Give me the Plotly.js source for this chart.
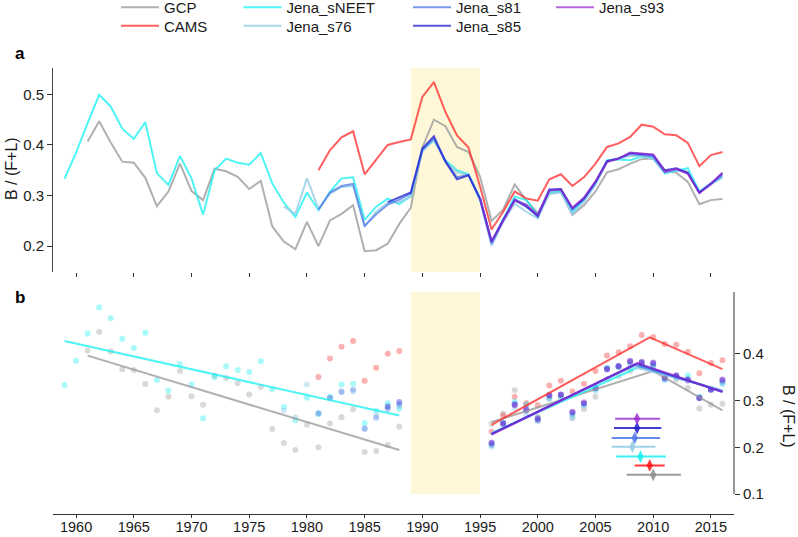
<!DOCTYPE html>
<html>
<head>
<meta charset="utf-8">
<script src="https://cdn.plot.ly/plotly-3.0.1.min.js"></script>
<style>html,body{margin:0;padding:0;background:#fff}#chart{width:798px;height:537px}</style>
</head>
<body>
<div id="chart"></div>
<script>
// ---------------- DATA ----------------
const seriesNames = ["GCP", "CAMS", "Jena_sNEET", "Jena_s76", "Jena_s81", "Jena_s85", "Jena_s93"];

const gcpStart = 1961;
const gcp = [0.407, 0.447, 0.405, 0.367, 0.365, 0.335, 0.279, 0.308, 0.363, 0.309,
             0.291, 0.353, 0.348, 0.337, 0.313, 0.329, 0.239, 0.209, 0.194, 0.248,
             0.200, 0.251, 0.264, 0.281, 0.190, 0.192, 0.205, 0.244, 0.276, 0.395,
             0.450, 0.437, 0.396, 0.386, 0.337, 0.250, 0.272, 0.322, 0.291, 0.265,
             0.304, 0.308, 0.262, 0.281, 0.308, 0.346, 0.352, 0.363, 0.372, 0.373,
             0.350, 0.345, 0.327, 0.283, 0.291, 0.293];

const camsStart = 1981;
const cams = [0.350, 0.390, 0.415, 0.427, 0.342, 0.370, 0.400, 0.406, 0.411, 0.495,
              0.524, 0.465, 0.419, 0.395, 0.318, 0.233, 0.268, 0.308, 0.294, 0.290,
              0.332, 0.342, 0.319, 0.336, 0.363, 0.396, 0.403, 0.416, 0.440, 0.436,
              0.421, 0.419, 0.404, 0.358, 0.380, 0.386];

const sneetStart = 1959;
const sneet = [0.333, 0.385, 0.443, 0.499, 0.476, 0.432, 0.412, 0.445, 0.344, 0.321,
               0.378, 0.334, 0.262, 0.350, 0.373, 0.365, 0.361, 0.384, 0.324, 0.286,
               0.258, 0.306, 0.271, 0.308, 0.334, 0.336, 0.252, 0.278, 0.294, 0.283,
               0.299, 0.391, 0.409, 0.370, 0.350, 0.342, 0.294, 0.207, 0.253, 0.298,
               0.291, 0.262, 0.306, 0.308, 0.268, 0.291, 0.323, 0.370, 0.371, 0.370,
               0.377, 0.375, 0.344, 0.349, 0.354, 0.308, 0.324, 0.336];

const s76Start = 1978;
const s76 = [0.278, 0.264, 0.334, 0.274, 0.304, 0.317, 0.319, 0.239, 0.268, 0.286,
             0.287, 0.298, 0.387, 0.410, 0.368, 0.346, 0.340, 0.290, 0.201, 0.248,
             0.284, 0.268, 0.255, 0.303, 0.306, 0.263, 0.288, 0.321, 0.366, 0.372,
             0.378, 0.378, 0.372, 0.345, 0.350, 0.347, 0.305, 0.322, 0.336];

const s81Start = 1981;
const s81 = [0.272, 0.306, 0.319, 0.323, 0.240, 0.263, 0.282, 0.292, 0.304, 0.390,
             0.413, 0.368, 0.336, 0.341, 0.292, 0.205, 0.250, 0.293, 0.281, 0.258,
             0.310, 0.312, 0.272, 0.293, 0.326, 0.368, 0.374, 0.382, 0.380, 0.377,
             0.346, 0.352, 0.344, 0.306, 0.323, 0.340];

const s85Start = 1987;
const s85 = [0.287, 0.297, 0.306, 0.393, 0.417, 0.367, 0.332, 0.340, 0.294, 0.209,
             0.252, 0.291, 0.278, 0.260, 0.312, 0.313, 0.275, 0.294, 0.327, 0.368,
             0.373, 0.384, 0.382, 0.380, 0.350, 0.354, 0.345, 0.306, 0.324, 0.344];

const s93Start = 1995;
const s93 = [0.295, 0.210, 0.250, 0.290, 0.282, 0.262, 0.310, 0.312, 0.276, 0.296,
             0.328, 0.366, 0.373, 0.385, 0.383, 0.381, 0.348, 0.353, 0.343, 0.305,
             0.323, 0.345];

// Pinatubo-period excluded from the trend panel
const gapYears = [1989, 1995];

// Panel b: linear trends before the gap
const trendLeftGCPx = [1961, 1988];
const trendLeftGCPy = [0.396, 0.194];
const trendLeftNEETx = [1959, 1988];
const trendLeftNEETy = [0.427, 0.268];

// Panel b: piecewise trends after the gap: [1996, breakpoint, 2016]
// order: GCP, CAMS, sNEET, s76, s81, s85, s93
const bpYear = [2010.0, 2009.7, 2008.9, 2008.2, 2008.4, 2008.6, 2008.6];
const bpLo   = [2007.7, 2008.4, 2006.8, 2006.4, 2006.4, 2006.6, 2006.7];
const bpHi   = [2012.4, 2011.0, 2011.1, 2010.2, 2010.6, 2010.7, 2010.6];
const trendStartVal = [0.254, 0.248, 0.230, 0.228, 0.229, 0.228, 0.227];
const trendBpVal    = [0.363, 0.435, 0.373, 0.372, 0.376, 0.379, 0.380];
const trendEndVal   = [0.279, 0.367, 0.321, 0.322, 0.320, 0.318, 0.319];
const trendYears = [1996, 2016];
// vertical level at which each breakpoint estimate is plotted
const bpLevel = [0.141, 0.161, 0.180, 0.201, 0.220, 0.241, 0.261];

const xTicks = [1960, 1965, 1970, 1975, 1980, 1985, 1990, 1995, 2000, 2005, 2010, 2015];
const yTicksA = [0.2, 0.3, 0.4, 0.5];
const yTicksB = [0.1, 0.2, 0.3, 0.4];

// ---------------- STYLE ----------------
const lineColors = ["rgba(150,150,150,0.75)", "rgba(255,40,40,0.75)", "rgba(20,240,240,0.75)",
                    "rgba(150,205,230,0.8)", "rgba(80,120,230,0.75)", "rgba(30,30,210,0.75)",
                    "rgba(150,40,210,0.7)"];
const pointColors = ["rgba(160,160,160,0.4)", "rgba(245,60,60,0.4)", "rgba(40,240,240,0.4)",
                     "rgba(140,200,230,0.4)", "rgba(80,120,230,0.4)", "rgba(40,40,210,0.4)",
                     "rgba(150,40,210,0.4)"];
const markColors = ["rgba(140,140,140,0.85)", "rgba(255,20,20,0.85)", "rgba(20,240,240,0.85)",
                    "rgba(150,205,230,0.9)", "rgba(80,120,230,0.85)", "rgba(30,30,200,0.85)",
                    "rgba(150,40,210,0.8)"];
const FONT = "Liberation Sans, Arial, Helvetica, sans-serif";

function span(start, n) { const a = []; for (let i = 0; i < n; i++) a.push(start + i); return a; }
const seriesData = [
  [gcpStart, gcp], [camsStart, cams], [sneetStart, sneet], [s76Start, s76],
  [s81Start, s81], [s85Start, s85], [s93Start, s93]
];

const traces = [];
const legendIds = ["legend", "legend2", "legend3", "legend4", "legend5", "legend6", "legend7"];
// Panel a lines
seriesData.forEach(([st, vals], i) => {
  traces.push({
    type: "scatter", mode: "lines", x: span(st, vals.length), y: vals,
    xaxis: "x", yaxis: "y", name: seriesNames[i], legend: legendIds[i],
    line: { color: lineColors[i], width: 2 }
  });
});
// Panel b points (excluding gap years)
seriesData.forEach(([st, vals], i) => {
  const xs = [], ys = [];
  span(st, vals.length).forEach((yr, k) => {
    if (yr < gapYears[0] || yr > gapYears[1]) { xs.push(yr); ys.push(vals[k]); }
  });
  traces.push({
    type: "scatter", mode: "markers", x: xs, y: ys, xaxis: "x2", yaxis: "y2",
    showlegend: false, marker: { color: pointColors[i], size: 6 }
  });
});
// Panel b left trends
traces.push({ type: "scatter", mode: "lines", x: trendLeftGCPx, y: trendLeftGCPy, xaxis: "x2", yaxis: "y2",
  showlegend: false, line: { color: lineColors[0], width: 2 } });
traces.push({ type: "scatter", mode: "lines", x: trendLeftNEETx, y: trendLeftNEETy, xaxis: "x2", yaxis: "y2",
  showlegend: false, line: { color: lineColors[2], width: 2 } });
// Panel b right piecewise trends
const trendOrder = [0, 2, 3, 4, 1, 5, 6];
trendOrder.forEach(i => {
  traces.push({
    type: "scatter", mode: "lines",
    x: [trendYears[0], bpYear[i], trendYears[1]],
    y: [trendStartVal[i], trendBpVal[i], trendEndVal[i]],
    xaxis: "x2", yaxis: "y2", showlegend: false, line: { color: lineColors[i], width: 2 }
  });
});
// Breakpoint estimates with uncertainty
bpYear.forEach((b, i) => {
  traces.push({
    type: "scatter", mode: "markers", x: [b], y: [bpLevel[i]], xaxis: "x2", yaxis: "y2",
    showlegend: false,
    marker: { symbol: "diamond-tall", size: 9, color: markColors[i] },
    error_x: { type: "data", symmetric: false, array: [bpHi[i] - b], arrayminus: [b - bpLo[i]],
               width: 0, thickness: 2, color: markColors[i] }
  });
});

// Legends: positioned like the reference's 4 x 2 grid
const legX = [116, 116, 238.5, 238.5, 408, 408, 551];
const legY = [7.5, 26, 7.5, 26, 7.5, 26, 7.5];
const W = 798, H = 537;

const layout = {
  width: W, height: H,
  margin: { l: 53, r: 64, t: 68, b: 23, autoexpand: false },
  paper_bgcolor: "#ffffff", plot_bgcolor: "rgba(0,0,0,0)",
  font: { family: FONT, size: 15, color: "#1a1a1a" },
  xaxis: {
    domain: [0, 1], anchor: "y", range: [1958, 2017], showline: false, zeroline: false, showgrid: false,
    ticks: "outside", ticklen: 4, tickwidth: 1, tickcolor: "#333", tickvals: xTicks, showticklabels: false
  },
  yaxis: {
    domain: [0.5426, 1], anchor: "x", range: [0.149, 0.552], showline: true, linecolor: "#444", linewidth: 1,
    zeroline: false, showgrid: false, ticks: "outside", ticklen: 5, tickwidth: 1, tickcolor: "#333",
    tickvals: yTicksA, tickformat: ".1f", tickfont: { size: 15 }
  },
  xaxis2: {
    domain: [0, 1], anchor: "y2", range: [1958, 2017], showline: true, linecolor: "#333", linewidth: 1,
    zeroline: false, showgrid: false, ticks: "outside", ticklen: 3, tickwidth: 1, tickcolor: "#333",
    tickvals: xTicks, tickfont: { size: 14.5 }, ticklabelstandoff: -3
  },
  yaxis2: {
    domain: [0, 0.4978], anchor: "x2", side: "right", range: [0.0573, 0.532], showline: false,
    zeroline: false, showgrid: false, ticks: "outside", ticklen: 5, tickwidth: 1, tickcolor: "#333",
    tickvals: yTicksB, tickformat: ".1f", tickfont: { size: 15 }
  },
  shapes: [
    { type: "rect", xref: "x", yref: "y domain", x0: gapYears[0], x1: gapYears[1], y0: 0, y1: 1,
      fillcolor: "#FFF8D8", line: { width: 0 }, layer: "below" },
    { type: "rect", xref: "x2", yref: "y2", x0: gapYears[0], x1: gapYears[1], y0: 0.1, y1: 0.532,
      fillcolor: "#FFF8D8", line: { width: 0 }, layer: "below" },
    { type: "line", xref: "x2 domain", yref: "y2", x0: 1, x1: 1, y0: 0.1, y1: 0.532,
      line: { color: "#333", width: 1 } }
  ],
  annotations: [
    { text: "<b>a</b>", xref: "paper", yref: "paper", x: (13 - 53) / 681, y: 1 - (54 - 68) / 446,
      xanchor: "left", yanchor: "middle", showarrow: false, font: { size: 17, color: "#000" } },
    { text: "<b>b</b>", xref: "paper", yref: "paper", x: (13 - 53) / 681, y: 1 - (297 - 68) / 446,
      xanchor: "left", yanchor: "middle", showarrow: false, font: { size: 17, color: "#000" } },
    { text: "B / (F+L)", xref: "paper", yref: "paper", x: (11 - 53) / 681, y: 1 - (169 - 68) / 446,
      xanchor: "center", yanchor: "middle", textangle: -90, showarrow: false, font: { size: 16 } },
    { text: "B / (F+L)", xref: "paper", yref: "paper", x: (789 - 53) / 681, y: 1 - (416 - 68) / 446,
      xanchor: "center", yanchor: "middle", textangle: 90, showarrow: false, font: { size: 16 } }
  ],
  showlegend: true
};
legendIds.forEach((id, i) => {
  layout[id] = {
    xref: "container", yref: "container", x: legX[i] / W, y: 1 - legY[i] / H,
    xanchor: "left", yanchor: "middle", bgcolor: "rgba(0,0,0,0)", borderwidth: 0,
    itemwidth: 38, font: { size: 15, family: FONT, color: "#1a1a1a" }
  };
});

Plotly.newPlot("chart", traces, layout, { displayModeBar: false, staticPlot: true });
</script>
</body>
</html>
